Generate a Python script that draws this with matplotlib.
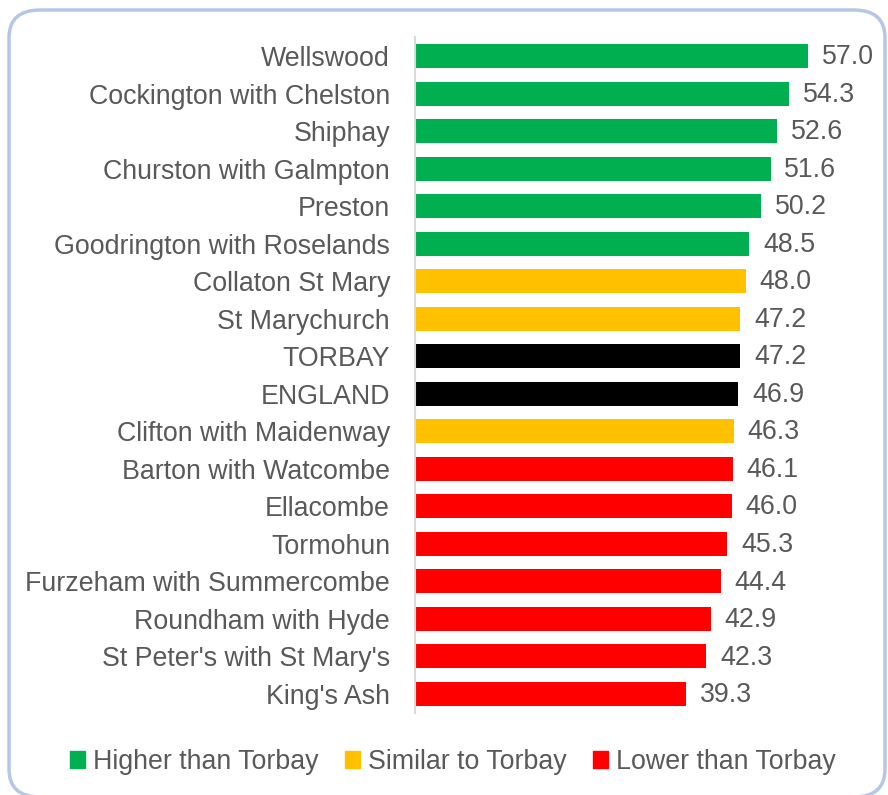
import matplotlib.pyplot as plt
from matplotlib.patches import FancyBboxPatch, Patch

# dane z wykresu
wards = ["Wellswood", "Cockington with Chelston", "Shiphay", "Churston with Galmpton",
         "Preston", "Goodrington with Roselands", "Collaton St Mary", "St Marychurch",
         "TORBAY", "ENGLAND", "Clifton with Maidenway", "Barton with Watcombe",
         "Ellacombe", "Tormohun", "Furzeham with Summercombe", "Roundham with Hyde",
         "St Peter's with St Mary's", "King's Ash"]
values = [57.0, 54.3, 52.6, 51.6, 50.2, 48.5, 48.0, 47.2, 47.2, 46.9, 46.3, 46.1,
          46.0, 45.3, 44.4, 42.9, 42.3, 39.3]
groups = ["H", "H", "H", "H", "H", "H", "S", "S", "R", "R", "S", "L",
          "L", "L", "L", "L", "L", "L"]
legend_labels = ["Higher than Torbay", "Similar to Torbay", "Lower than Torbay"]

kolory = {"H": "#00B050", "S": "#FFC000", "L": "#FF0000", "R": "#000000"}
szary = "#595959"
fs = 19.3
plt.rcParams['font.family'] = ['Liberation Sans', 'DejaVu Sans']

fig = plt.figure(figsize=(8.88, 7.95), dpi=100)
# ramka z zaokraglonymi rogami
ramka = FancyBboxPatch((9 / 888, 1 - 797 / 795), (885 - 9) / 888, (797 - 10) / 795,
                       boxstyle="round,pad=0,rounding_size=0.035",
                       transform=fig.transFigure, facecolor="none",
                       edgecolor="#B4C7E7", linewidth=2.5, zorder=0)
fig.patches.append(ramka)

ax = fig.add_axes([415 / 888, 0.1035, (828.4 - 415) / 888, 0.9531 - 0.1035])
ax.patch.set_alpha(0)
y = list(range(len(wards)))
ax.barh(y, values, height=0.64, color=[kolory[g] for g in groups])
for yi, v in zip(y, values):
    ax.text(v + 2.0, yi + 0.03, f"{v:.1f}", va="center", ha="left", fontsize=fs, color=szary)

ax.set_xlim(0, 60)
ax.set_ylim(len(wards) - 0.5, -0.5)
ax.set_yticks(y)
ax.set_yticklabels(wards, fontsize=fs, color=szary)
ax.tick_params(axis="y", length=0, pad=18)
ax.set_xticks([])
for s in ["top", "right", "bottom"]:
    ax.spines[s].set_visible(False)
ax.spines["left"].set_color("#D9D9D9")
ax.spines["left"].set_linewidth(1.5)

uchwyty = [Patch(color=kolory[k]) for k in ["H", "S", "L"]]
fig.legend(uchwyty, legend_labels, loc="center", bbox_to_anchor=(453 / 888, 1 - 762 / 795),
           ncol=3, frameon=False, fontsize=fs, labelcolor=szary,
           handlelength=0.55, handleheight=0.55, handletextpad=0.3, columnspacing=1.0)

plt.savefig("out.png", dpi=100)
